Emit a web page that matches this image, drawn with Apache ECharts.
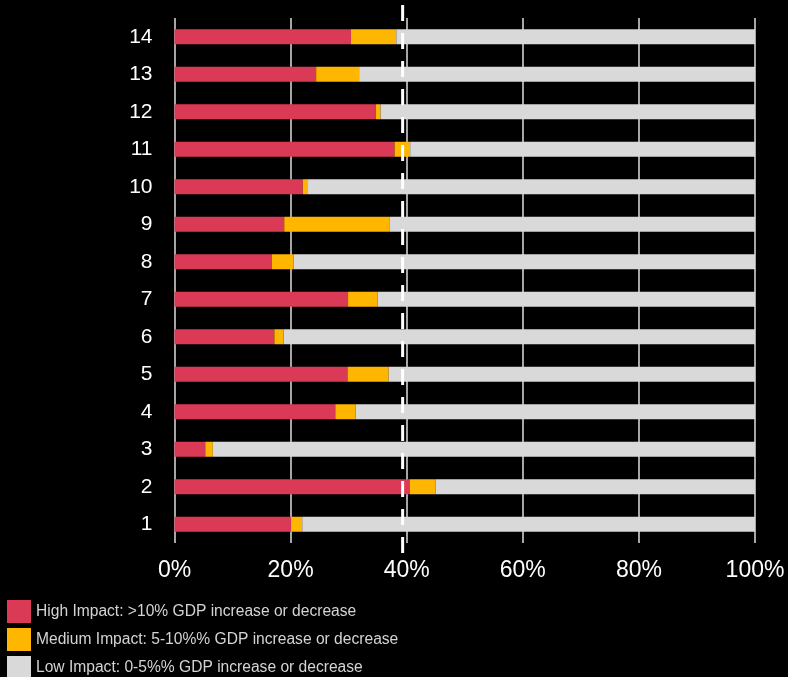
<!DOCTYPE html>
<html>
<head>
<meta charset="utf-8">
<script src="https://cdn.jsdelivr.net/npm/echarts@6/dist/echarts.min.js"></script>
<style>
html,body{margin:0;padding:0;background:#000;}
#chart{width:788px;height:677px;}
</style>
</head>
<body>
<div id="chart"></div>
<script>
var categories = ['1','2','3','4','5','6','7','8','9','10','11','12','13','14'];
var highImpact   = [20.1, 40.5, 5.3, 27.7, 29.8, 17.2, 29.9, 16.8, 18.9, 22.1, 37.9, 34.7, 24.4, 30.4];
var mediumImpact = [1.9, 4.5, 1.3, 3.5, 7.1, 1.6, 5.1, 3.7, 18.2, 0.9, 2.7, 0.8, 7.4, 7.8];
var lowImpact    = [78.0, 55.0, 93.4, 68.8, 63.1, 81.2, 65.0, 79.5, 62.9, 77.0, 59.4, 64.5, 68.2, 61.8];
var xTicks = [0, 20, 40, 60, 80, 100];
var threshold = 39.3;
var seriesNames = [
  'High Impact: >10% GDP increase or decrease',
  'Medium Impact: 5-10%% GDP increase or decrease',
  'Low Impact: 0-5%% GDP increase or decrease'
];
var colors = ['#DB3A56', '#FFB600', '#D9D9D9'];

var chart = echarts.init(document.getElementById('chart'));
var font = 'Liberation Sans, Arial, Helvetica, sans-serif';

function mk(i, data) {
  return {
    name: seriesNames[i],
    type: 'bar',
    stack: 'total',
    barWidth: '40%',
    data: data,
    itemStyle: { color: colors[i] },
    emphasis: { disabled: true },
    animation: false
  };
}

chart.setOption({
  backgroundColor: '#000',
  animation: false,
  textStyle: { fontFamily: font },
  grid: { left: 174.5, right: 33, top: 18, bottom: 134 },
  xAxis: {
    type: 'value',
    min: xTicks[0],
    max: xTicks[xTicks.length - 1],
    interval: 20,
    axisLine: { show: false },
    axisTick: { show: false },
    splitLine: { show: true, lineStyle: { color: '#a6a6a6', width: 2 } },
    axisLabel: {
      color: '#fff', fontSize: 23, margin: 16, fontFamily: font,
      formatter: function (v) { return v + '%'; }
    }
  },
  yAxis: {
    type: 'category',
    data: categories,
    axisLine: { show: false },
    axisTick: { show: false },
    axisLabel: { color: '#fff', fontSize: 21, margin: 22, fontFamily: font }
  },
  legend: {
    orient: 'vertical',
    left: 7,
    top: 600,
    height: 100,
    width: 500,
    padding: 0,
    itemWidth: 24,
    itemHeight: 23,
    itemGap: 5,
    icon: 'rect',
    selectedMode: false,
    textStyle: { color: '#d4d4d4', fontSize: 15.6, fontFamily: font },
    data: seriesNames
  },
  series: [mk(0, highImpact), mk(1, mediumImpact), mk(2, lowImpact)]
});

var px = chart.convertToPixel({ xAxisIndex: 0 }, threshold);
chart.setOption({
  graphic: [{
    type: 'line',
    shape: { x1: px, y1: 5, x2: px, y2: 555 },
    style: { stroke: '#fff', lineWidth: 3, lineDash: [16, 12] },
    z: 100,
    silent: true
  }]
});
</script>
</body>
</html>
